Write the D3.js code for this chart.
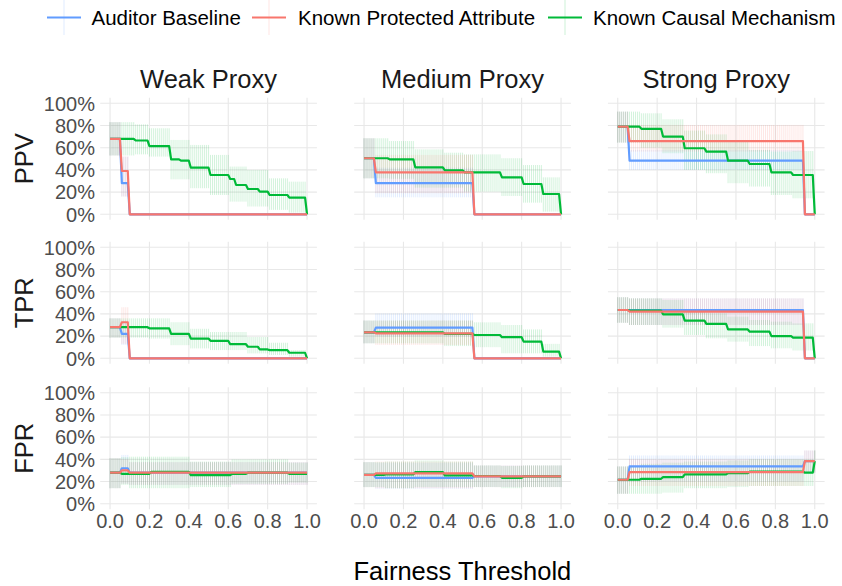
<!DOCTYPE html>
<html>
<head>
<meta charset="utf-8">
<script src="https://cdn.jsdelivr.net/npm/d3@7"></script>
<style>
  html, body { margin: 0; padding: 0; background: #fff; }
  svg { display: block; font-family: "Liberation Sans", Arial, Helvetica, sans-serif; }
</style>
</head>
<body>
<svg id="chart" width="842" height="586"></svg>
<script>
// ---------------- DATA ----------------
const proxies = ["Weak Proxy", "Medium Proxy", "Strong Proxy"];
const metrics = ["PPV", "TPR", "FPR"];
const methods = ["Auditor Baseline", "Known Protected Attribute", "Known Causal Mechanism"];
const methodColors = ["#619CFF", "#F8766D", "#00BA38"];
const xTickValues = [0, 0.2, 0.4, 0.6, 0.8, 1.0];
const xTickLabels = ["0.0", "0.2", "0.4", "0.6", "0.8", "1.0"];
const yTickValues = [0, 20, 40, 60, 80, 100];
const yTickLabels = ["0%", "20%", "40%", "60%", "80%", "100%"];
// fairness thresholds evaluated (0.00 .. 1.00 by 0.01)
const thresholds = d3.range(0, 101).map(i => i / 100);

// Step data: [threshold where step starts, estimate %, lower %, upper %]
// Weak proxy
const weakPPV_AB  = [[0,68,53,83],[0.06,28,16,52],[0.10,0,0,0]];
const weakPPV_KPA = [[0,68,53,83],[0.06,39,16,52],[0.10,0,0,0]];
const weakPPV_KCM = [[0,68,53,83],[0.13,66.5,54,81],[0.20,61.5,52,77.5],[0.31,49.5,31.5,67],[0.36,48.3,31.5,67],
                     [0.41,42,23.5,62.5],[0.51,35.4,17.4,53.5],[0.61,31.8,11.4,43],[0.64,26.4,11.4,43],
                     [0.70,22.8,7,40],[0.76,20.4,7,40],[0.81,17.4,4,32.4],[0.91,15,1.5,29.4],[1.0,0,0,0]];
const weakTPR_AB  = [[0,28,18.6,36],[0.06,22,12,34],[0.10,0,0,0]];
const weakTPR_KPA = [[0,28,18.6,36],[0.06,32.5,13,46],[0.10,0,0,0]];
const weakTPR_KCM = [[0,28,18.6,36],[0.20,27,17.8,36],[0.31,22,11.8,32.5],[0.41,17.8,8.9,26.6],[0.51,15.7,7.4,23.7],
                     [0.61,12.7,7.4,23.7],[0.70,10.4,4.4,19.2],[0.76,8,4.4,19.2],[0.81,7.4,3,14],[0.91,5,1.5,7.4],[1.0,0,0,0]];
const weakFPR_AB  = [[0,28,14,41],[0.06,32,18,44],[0.10,28,17,37.5]];
const weakFPR_KPA = [[0,28,14,41],[0.06,30,18,40],[0.10,28,17,37.5]];
const weakFPR_KCM = [[0,28,14,41],[0.06,27,17,42],[0.10,27,14,42.4],[0.21,28.8,14,42.4],[0.41,25.8,15,38],
                     [0.62,27,18,40],[0.70,28,18,40],[0.91,27,19,37]];
// Medium proxy
const medPPV_AB  = [[0,50.5,32.4,68.5],[0.06,28,15.3,42],[0.56,0,0,0]];
const medPPV_KPA = [[0,50.5,32.4,68.5],[0.06,37.8,19,53.5],[0.56,0,0,0]];
const medPPV_KCM = [[0,50.5,32.4,68.5],[0.13,49.5,32,66],[0.26,42.3,24,58.5],[0.41,39.6,24,55.5],[0.51,37.8,20.4,54],
                    [0.70,33.3,16.5,50.5],[0.81,27.3,10.5,44.4],[0.91,18.3,2.4,33.3],[1.0,0,0,0]];
const medTPR_AB  = [[0,23.4,13.5,34],[0.06,27.6,19.5,40.5],[0.56,0,0,0]];
const medTPR_KPA = [[0,23.4,13.5,34],[0.06,22.5,12,34],[0.56,0,0,0]];
const medTPR_KCM = [[0,23.4,13.5,34],[0.41,22,11,34],[0.56,21,10,32.4],[0.70,19,4.5,30],[0.81,15,4.5,26],
                    [0.91,6,1.5,13],[1.0,0,0,0]];
const medFPR_AB  = [[0,26,15,37.5],[0.06,23.4,13.5,37],[0.56,24.6,15,34.5]];
const medFPR_KPA = [[0,26,15,37.5],[0.06,27.3,14,38],[0.56,24.6,15,34.5]];
const medFPR_KCM = [[0,26,15,37.5],[0.11,26.4,14,38],[0.26,28.5,15,39],[0.41,25.5,15,38],[0.56,25,15,34.5],
                    [0.70,23.4,14,34],[0.81,24.6,15,34.5]];
// Strong proxy
const strPPV_AB  = [[0,79,64.6,92.5],[0.06,48.3,40,58],[0.95,0,0,0]];
const strPPV_KPA = [[0,79,64.6,92.5],[0.06,66,56.5,80.5],[0.95,0,0,0]];
const strPPV_KCM = [[0,79,64.6,92.5],[0.12,77,60,91],[0.23,70,55,85.6],[0.34,59.5,40,75.4],[0.45,56.5,37,72],
                    [0.56,48.3,28,66],[0.67,45.3,25,58],[0.78,37.8,17.4,56.5],[0.89,35.4,14.4,57],[1.0,0,0,0]];
const strTPR_AB  = [[0,43.5,32,55],[0.06,43.5,30,54],[0.95,0,0,0]];
const strTPR_KPA = [[0,43.5,32,55],[0.06,42,30,54],[0.95,0,0,0]];
const strTPR_KCM = [[0,43.5,32,55],[0.06,43,30,54],[0.23,39.6,27.6,52.5],[0.34,34,21,43.5],[0.45,31,18,40.5],
                    [0.56,26,15,37.5],[0.67,24,11,34.5],[0.78,20,9,33],[0.89,18.6,7,31.5],[1.0,0,0,0]];
const strFPR_AB  = [[0,21.6,9,33.6],[0.06,33.6,20,43.5],[0.95,38.4,28,48]];
const strFPR_KPA = [[0,21.6,9,33.6],[0.06,28.5,16,40],[0.95,38.4,28,48]];
const strFPR_KCM = [[0,21.6,9,33.6],[0.12,22.5,9,36],[0.23,24,10,37],[0.34,26.4,14,38],[0.56,27.6,15,39],
                    [0.67,29,16,40],[0.95,28,16,40],[1.0,38.4,28,48]];

// lookup [metric][proxy] -> [AB, KPA, KCM]
const panelData = {
  PPV: { "Weak Proxy": [weakPPV_AB, weakPPV_KPA, weakPPV_KCM], "Medium Proxy": [medPPV_AB, medPPV_KPA, medPPV_KCM], "Strong Proxy": [strPPV_AB, strPPV_KPA, strPPV_KCM] },
  TPR: { "Weak Proxy": [weakTPR_AB, weakTPR_KPA, weakTPR_KCM], "Medium Proxy": [medTPR_AB, medTPR_KPA, medTPR_KCM], "Strong Proxy": [strTPR_AB, strTPR_KPA, strTPR_KCM] },
  FPR: { "Weak Proxy": [weakFPR_AB, weakFPR_KPA, weakFPR_KCM], "Medium Proxy": [medFPR_AB, medFPR_KPA, medFPR_KCM], "Strong Proxy": [strFPR_AB, strFPR_KPA, strFPR_KCM] }
};

// ---------------- LAYOUT ----------------
const svg = d3.select("#chart");
const panelLefts = [100.2, 354.2, 607.9];
const panelW = 216.7;
const panelTops = [97.75, 241.75, 387.2];
const panelH = 122.1;
const gridColor = "#e8e8e8";
const textGray = "#4d4d4d";
const drawOrder = [0, 2, 1]; // blue, green, red on top

function valueAt(steps, t) {
  let cur = steps[0];
  for (const s of steps) { if (s[0] <= t + 1e-9) cur = s; }
  return { v: cur[1], lo: cur[2], hi: cur[3] };
}

metrics.forEach((metric, ri) => {
  proxies.forEach((proxy, ci) => {
    const x = d3.scaleLinear().domain([-0.05, 1.05]).range([panelLefts[ci], panelLefts[ci] + panelW]);
    const y = d3.scaleLinear().domain([-5, 105]).range([panelTops[ri] + panelH, panelTops[ri]]);
    const g = svg.append("g");

    // grid
    g.selectAll("line.gx").data(xTickValues).join("line")
      .attr("x1", d => x(d)).attr("x2", d => x(d))
      .attr("y1", y.range()[1]).attr("y2", y.range()[0])
      .attr("stroke", gridColor).attr("stroke-width", 1.1);
    g.selectAll("line.gy").data(yTickValues).join("line")
      .attr("y1", d => y(d)).attr("y2", d => y(d))
      .attr("x1", x.range()[0]).attr("x2", x.range()[1])
      .attr("stroke", gridColor).attr("stroke-width", 1.1);

    const series = panelData[metric][proxy];
    // error bars
    drawOrder.forEach(mi => {
      const pts = thresholds.map(t => ({ t, ...valueAt(series[mi], t) })).filter(d => d.hi > d.lo);
      g.append("g").selectAll("line").data(pts).join("line")
        .attr("x1", d => x(d.t)).attr("x2", d => x(d.t))
        .attr("y1", d => y(d.lo)).attr("y2", d => y(d.hi))
        .attr("stroke", methodColors[mi])
        .attr("stroke-opacity", 0.2)
        .attr("stroke-width", 0.9);
    });
    // lines
    drawOrder.forEach(mi => {
      const pts = thresholds.map(t => ({ t, ...valueAt(series[mi], t) }));
      g.append("path").datum(pts)
        .attr("d", d3.line().x(d => x(d.t)).y(d => y(d.v)))
        .attr("fill", "none")
        .attr("stroke", methodColors[mi])
        .attr("stroke-width", 2.2)
        .attr("stroke-linejoin", "round");
    });

    // y axis labels (first column only)
    if (ci === 0) {
      g.selectAll("text.yt").data(yTickValues).join("text")
        .attr("x", 95).attr("y", d => y(d)).attr("dy", "0.36em")
        .attr("text-anchor", "end").attr("font-size", 20).attr("fill", textGray)
        .text((d, i) => yTickLabels[i]);
      svg.append("text")
        .attr("transform", `translate(33,${panelTops[ri] + panelH / 2}) rotate(-90)`)
        .attr("text-anchor", "middle").attr("font-size", 25.5).attr("fill", "#1a1a1a")
        .text(metric);
    }
    // x axis labels (bottom row only)
    if (ri === metrics.length - 1) {
      g.selectAll("text.xt").data(xTickValues).join("text")
        .attr("x", d => x(d)).attr("y", 528)
        .attr("text-anchor", "middle").attr("font-size", 20).attr("fill", textGray)
        .text((d, i) => xTickLabels[i]);
    }
    // strip titles (top row)
    if (ri === 0) {
      svg.append("text")
        .attr("x", panelLefts[ci] + panelW / 2).attr("y", 88)
        .attr("text-anchor", "middle").attr("font-size", 25.5).attr("fill", "#1a1a1a")
        .text(proxy);
    }
  });
});

// axis title
svg.append("text")
  .attr("x", (panelLefts[0] + panelLefts[2] + panelW) / 2).attr("y", 580)
  .attr("text-anchor", "middle").attr("font-size", 25.5).attr("fill", "#000")
  .text("Fairness Threshold");

// legend
const legendKeyX = [47, 252, 548];
const legendTextX = [91.5, 298, 593];
methods.forEach((m, i) => {
  const lg = svg.append("g");
  lg.append("line")
    .attr("x1", legendKeyX[i] + 17).attr("x2", legendKeyX[i] + 17)
    .attr("y1", 0).attr("y2", 35)
    .attr("stroke", methodColors[i]).attr("stroke-opacity", 0.2).attr("stroke-width", 1);
  lg.append("line")
    .attr("x1", legendKeyX[i]).attr("x2", legendKeyX[i] + 34)
    .attr("y1", 17.5).attr("y2", 17.5)
    .attr("stroke", methodColors[i]).attr("stroke-width", 2.2);
  lg.append("text")
    .attr("x", legendTextX[i]).attr("y", 25)
    .attr("font-size", 20.5).attr("fill", "#000")
    .text(m);
});
</script>
</body>
</html>
